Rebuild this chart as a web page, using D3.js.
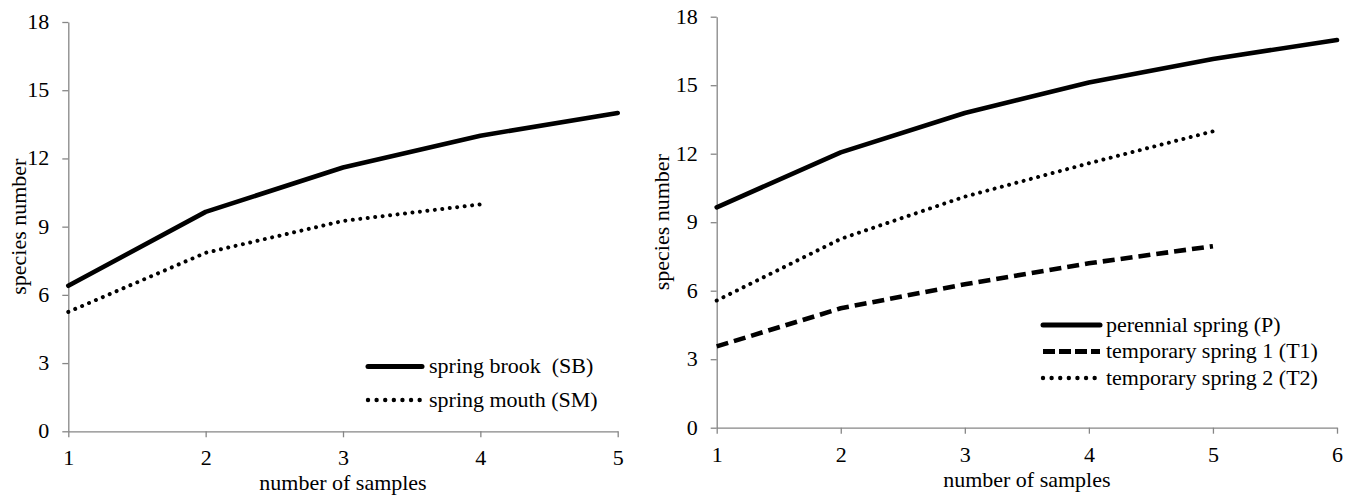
<!DOCTYPE html>
<html><head><meta charset="utf-8">
<script src="https://cdn.jsdelivr.net/npm/d3@7/dist/d3.min.js"></script>
<style>
html,body{margin:0;padding:0;background:#fff;}
svg{display:block;}
text{font-family:"Liberation Serif","Times New Roman",serif;fill:#000;white-space:pre;}
</style></head>
<body>
<svg id="chart" width="1354" height="495"></svg>
<script>
// ---- data ----
const yTicks = [0, 3, 6, 9, 12, 15, 18];
const leftSamples = [1, 2, 3, 4, 5];
const springBrook = [6.4, 9.65, 11.6, 13.0, 14.0];
const springMouth = [5.25, 7.85, 9.25, 9.98];
const rightSamples = [1, 2, 3, 4, 5, 6];
const perennial = [9.65, 12.06, 13.78, 15.12, 16.15, 16.98];
const temporary1 = [3.56, 5.23, 6.28, 7.2, 7.95];
const temporary2 = [5.57, 8.27, 10.12, 11.58, 12.98];
const leftLabels = ["spring brook  (SB)", "spring mouth (SM)"];
const rightLabels = ["perennial spring (P)", "temporary spring 1 (T1)", "temporary spring 2 (T2)"];
const xTitle = "number of samples";
const yTitle = "species number";

const FS = 20, STRETCH = 1.1;
const styles = {
  solid: {w: 4.6, dash: null, cap: "round"},
  dashed: {w: 4.6, dash: "12 6", cap: "butt"},
  dotted: {w: 4.0, dash: "0.01 7.5", cap: "round"}
};

const svg = d3.select("#chart");

function stretchText(sel) {
  sel.each(function() {
    const t = d3.select(this);
    const x = +t.attr("x") || 0, y = +t.attr("y") || 0;
    t.attr("x", x / STRETCH).attr("y", y).attr("transform", `scale(${STRETCH},1)`);
  });
}

function addText(x, y, str, anchor, rot) {
  return svg.append("text")
    .attr("transform", `translate(${x},${y}) rotate(${rot || 0}) scale(${STRETCH},1)`)
    .attr("text-anchor", anchor)
    .attr("font-size", FS)
    .attr("xml:space", "preserve")
    .text(str);
}

function panel(cfg) {
  const x = d3.scaleLinear().domain(cfg.xDomain).range(cfg.xRange);
  const y = d3.scaleLinear().domain([0, 18]).range(cfg.yRange);

  const ya = svg.append("g").attr("transform", `translate(${cfg.xRange[0]},0)`)
    .call(d3.axisLeft(y).tickValues(yTicks).tickSize(6).tickSizeOuter(0).tickPadding(13));
  const xa = svg.append("g").attr("transform", `translate(0,${cfg.yRange[0]})`)
    .call(d3.axisBottom(x).tickValues(cfg.samples).tickSize(6).tickSizeOuter(0).tickPadding(14).tickFormat(d3.format("d")));
  [ya, xa].forEach(a => {
    a.select(".domain").attr("stroke", "#868686").attr("stroke-width", 1.3);
    a.selectAll(".tick line").attr("stroke", "#868686").attr("stroke-width", 1.3);
    a.selectAll(".tick text").attr("font-size", FS).attr("fill", "#000")
      .attr("font-family", '"Liberation Serif","Times New Roman",serif');
    stretchText(a.selectAll(".tick text"));
  });

  const line = d3.line().x((d, i) => x(cfg.samples[i])).y(d => y(d));
  cfg.series.forEach(s => {
    const st = styles[s.style];
    svg.append("path").datum(s.values)
      .attr("d", line)
      .attr("fill", "none").attr("stroke", "#000")
      .attr("stroke-width", st.w)
      .attr("stroke-linecap", st.cap)
      .attr("stroke-linejoin", "round")
      .attr("stroke-dasharray", st.dash);
  });

  // legend
  cfg.series.forEach((s, i) => {
    const st = styles[s.style];
    const ly = cfg.legend.y0 + i * cfg.legend.dy;
    svg.append("line")
      .attr("x1", cfg.legend.x1).attr("x2", cfg.legend.x2)
      .attr("y1", ly).attr("y2", ly)
      .attr("stroke", "#000").attr("stroke-width", st.w + 0.4)
      .attr("stroke-linecap", st.cap)
      .attr("stroke-dasharray", s.style === "dotted" ? "0.01 8.6" : (s.style === "dashed" ? "12 4" : null));
    addText(cfg.legend.tx, ly, s.label, "start").attr("dominant-baseline", "central");
  });

  addText((cfg.xRange[0] + cfg.xRange[1]) / 2, cfg.xTitleY, xTitle, "middle");
  addText(cfg.yTitleX, (cfg.yRange[0] + cfg.yRange[1]) / 2, yTitle, "middle", -90)
    .attr("dominant-baseline", "central");
}

panel({
  xDomain: [1, 5], xRange: [68.3, 617.7], yRange: [431.3, 22],
  samples: leftSamples,
  series: [
    {values: springBrook, style: "solid", label: leftLabels[0]},
    {values: springMouth, style: "dotted", label: leftLabels[1]}
  ],
  legend: {x1: 368, x2: 422, tx: 429, y0: 366.5, dy: 33.5},
  xTitleY: 490, yTitleX: 19
});

panel({
  xDomain: [1, 6], xRange: [716.7, 1337], yRange: [427.7, 16.7],
  samples: rightSamples,
  series: [
    {values: perennial, style: "solid", label: rightLabels[0]},
    {values: temporary1, style: "dashed", label: rightLabels[1]},
    {values: temporary2, style: "dotted", label: rightLabels[2]}
  ],
  legend: {x1: 1043, x2: 1100, tx: 1106, y0: 325, dy: 26.5},
  xTitleY: 487, yTitleX: 662
});
</script>
</body></html>
